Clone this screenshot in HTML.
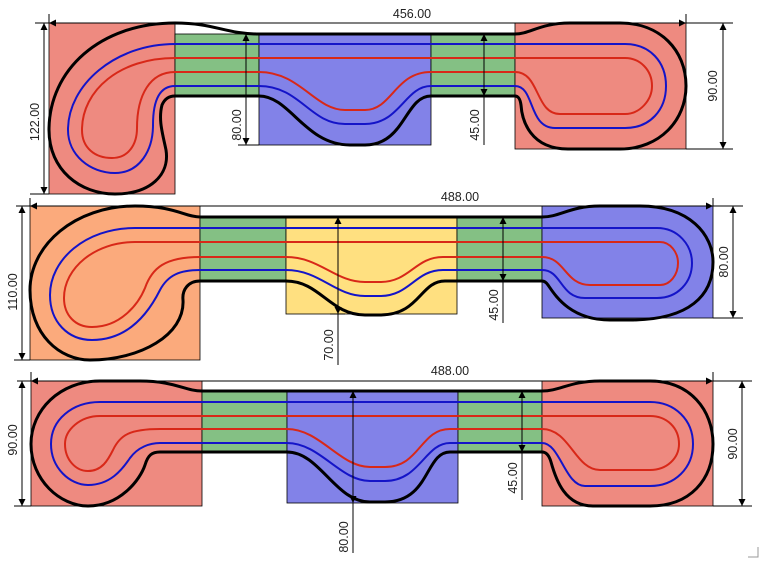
<!DOCTYPE html>
<html><head><meta charset="utf-8"><style>
html,body{margin:0;padding:0;background:#fff;}
svg{display:block;}
text{font-family:"Liberation Sans",sans-serif;font-size:12.5px;fill:#222;}
</style></head><body>
<svg width="763" height="561" viewBox="0 0 763 561" xmlns="http://www.w3.org/2000/svg">
<defs>
<marker id="a" viewBox="0 0 10 10" refX="10" refY="5" markerWidth="9" markerHeight="7" orient="auto-start-reverse" markerUnits="userSpaceOnUse"><path d="M0,0 L10,5 L0,10 z" fill="#000"/></marker>
</defs>
<g stroke="#000" stroke-width="0.8">
<rect x="49" y="23" width="126" height="171" fill="#EE8A80"/>
<rect x="175" y="34" width="84" height="62" fill="#84C084"/>
<rect x="259" y="34" width="172" height="111" fill="#8282E8"/>
<rect x="431" y="34" width="84" height="62" fill="#84C084"/>
<rect x="515" y="23" width="171" height="126" fill="#EE8A80"/>
<rect x="30" y="206" width="170" height="154" fill="#FBAA7C"/>
<rect x="200" y="217" width="86" height="64" fill="#84C084"/>
<rect x="286" y="217" width="171" height="97" fill="#FFE080"/>
<rect x="457" y="217" width="85" height="64" fill="#84C084"/>
<rect x="542" y="206" width="171" height="112" fill="#8282E8"/>
<rect x="31" y="381" width="171" height="125" fill="#EE8A80"/>
<rect x="202" y="391" width="85" height="61" fill="#84C084"/>
<rect x="287" y="391" width="171" height="112" fill="#8282E8"/>
<rect x="458" y="391" width="84" height="61" fill="#84C084"/>
<rect x="542" y="381" width="171" height="125" fill="#EE8A80"/>
</g>
<g fill="none" stroke-width="2" stroke-linecap="round">
<path stroke="#1414C8" d="M175,44 L625,44 C650,44 666,62 666,86 C666,110 650,128 625,128 L555,128 C528,128 535,86 515,86"/>
<path stroke="#D82818" d="M175,58 L625,58 C640,58 652,70 652,86 C652,100 640,114 625,114 L560,114 C535,114 540,72 515,72"/>
<path stroke="#1414C8" d="M175,44 C115,44 68,85 68,130 C68,155 90,173 115,173 C140,173 153,150 153,125 C153,100 160,86 175,86 L259,86 C300,86 310,124 345,124 L365,124 C400,124 405,86 431,86 L515,86"/>
<path stroke="#D82818" d="M175,58 C120,58 82,90 82,130 C82,148 95,158 112,158 C128,158 137,145 137,128 C137,95 150,72 175,72 L259,72 C300,72 315,110 345,110 L365,110 C392,110 395,72 431,72 L515,72"/>
<path stroke="#1414C8" d="M135,228 L657,228 C678,228 692,245 692,263 C692,282 678,298 657,298 L585,298 C560,298 562,270 542,270 L457,270 L443,270 C415,270 410,296 380,296 L365,296 C335,296 320,270 286,270 L200,270 C180,270 168,275 160,290 C150,310 130,340 92,340 C68,340 50,322 50,295 C50,260 85,228 135,228"/>
<path stroke="#D82818" d="M135,242 L660,242 C670,242 678,252 678,263 C678,275 670,285 660,285 L590,285 C565,285 565,257 542,257 L443,257 C415,257 410,282 380,282 L365,282 C335,282 320,257 286,257 L200,257 C165,257 152,268 145,288 C138,305 120,327 92,327 C75,327 64,315 64,298 C64,268 95,242 135,242"/>
<path stroke="#1414C8" d="M100,402 L650,402 C675,402 693,420 693,444 C693,468 675,486 650,486 L585,486 C565,486 560,443 542,443 L450,443 C425,443 420,481 385,481 L370,481 C340,481 320,443 287,443 L160,443 C150,443 138,447 130,458 C122,470 110,485 88,485 C70,485 51,468 51,444 C51,420 72,402 100,402"/>
<path stroke="#D82818" d="M100,416 L650,416 C667,416 679,428 679,444 C679,458 667,470 650,470 L600,470 C575,470 570,429 542,429 L450,429 C420,429 420,467 385,467 L370,467 C340,467 320,429 287,429 L160,429 C130,429 120,435 113,450 C108,460 102,471 88,471 C76,471 65,460 65,444 C65,430 80,416 100,416"/>
</g>
<g fill="none" stroke="#000" stroke-width="3" stroke-linejoin="round">
<path d="M259,34 C225,34 215,23 175,23 C100,23 49,70 49,130 C49,170 80,194 115,194 C150,194 170,175 166,150 C163,135 158,120 162,105 C165,98 170,96 175,96 L259,96 C290,96 305,145 350,145 L365,145 C405,145 405,96 431,96 L515,96 C518,96 520,98 521,105 C522,120 530,149 568,149 L620,149 C660,149 686,120 686,86 C686,50 660,23 620,23 L570,23 C540,23 530,34 515,34 Z"/>
<path d="M200,217 C185,217 175,206 135,206 C75,206 30,245 30,290 C30,335 60,360 90,360 C140,360 185,335 183,300 C182,290 188,281 200,281 L286,281 C320,281 330,315 365,315 L380,315 C420,315 420,281 445,281 L542,281 C544,281 546,282 548,285 C555,295 570,320 610,320 L630,320 C690,320 713,295 713,262 C713,235 690,206 640,206 L600,206 C570,206 560,217 542,217 Z"/>
<path d="M202,391 C185,391 175,381 140,381 L100,381 C60,381 31,410 31,444 C31,480 60,506 88,506 C120,506 140,480 145,465 C148,455 152,452 160,452 L287,452 C320,452 335,502 370,502 L385,502 C430,502 425,452 450,452 L542,452 C546,452 549,455 551,462 C556,480 565,506 593,506 L650,506 C690,506 713,480 713,444 C713,410 690,381 650,381 L600,381 C570,381 560,391 542,391 Z"/>
</g>
<g stroke="#000" stroke-width="1" fill="none">
<line x1="35" y1="23" x2="49" y2="23"/>
<line x1="49" y1="23" x2="686" y2="23" marker-start="url(#a)" marker-end="url(#a)"/>
<line x1="49" y1="14" x2="49" y2="23"/><line x1="686" y1="14" x2="686" y2="23"/>
<line x1="44" y1="23" x2="44" y2="194" marker-start="url(#a)" marker-end="url(#a)"/>
<line x1="30" y1="194" x2="49" y2="194"/>
<line x1="246" y1="34" x2="246" y2="145" marker-start="url(#a)" marker-end="url(#a)"/>
<line x1="238" y1="145" x2="259" y2="145"/>
<line x1="484" y1="34" x2="484" y2="96" marker-start="url(#a)" marker-end="url(#a)"/>
<line x1="484" y1="96" x2="484" y2="145"/>
<line x1="686" y1="23" x2="733" y2="23"/><line x1="686" y1="149" x2="733" y2="149"/>
<line x1="723" y1="23" x2="723" y2="149" marker-start="url(#a)" marker-end="url(#a)"/>

<line x1="16" y1="206" x2="30" y2="206"/>
<line x1="30" y1="206" x2="713" y2="206" marker-start="url(#a)" marker-end="url(#a)"/>
<line x1="30" y1="198" x2="30" y2="206"/><line x1="713" y1="198" x2="713" y2="206"/>
<line x1="22" y1="206" x2="22" y2="360" marker-start="url(#a)" marker-end="url(#a)"/>
<line x1="14" y1="360" x2="30" y2="360"/>
<line x1="338" y1="217" x2="338" y2="314" marker-start="url(#a)" marker-end="url(#a)"/>
<line x1="338" y1="314" x2="338" y2="365"/><line x1="330" y1="314" x2="345" y2="314"/>
<line x1="503" y1="217" x2="503" y2="281" marker-start="url(#a)" marker-end="url(#a)"/>
<line x1="503" y1="281" x2="503" y2="323"/>
<line x1="713" y1="206" x2="743" y2="206"/><line x1="713" y1="318" x2="743" y2="318"/>
<line x1="733" y1="206" x2="733" y2="318" marker-start="url(#a)" marker-end="url(#a)"/>

<line x1="17" y1="381" x2="31" y2="381"/>
<line x1="31" y1="381" x2="713" y2="381" marker-start="url(#a)" marker-end="url(#a)"/>
<line x1="31" y1="372" x2="31" y2="381"/><line x1="713" y1="372" x2="713" y2="381"/>
<line x1="22" y1="381" x2="22" y2="506" marker-start="url(#a)" marker-end="url(#a)"/>
<line x1="14" y1="506" x2="31" y2="506"/>
<line x1="353" y1="391" x2="353" y2="503" marker-start="url(#a)" marker-end="url(#a)"/>
<line x1="353" y1="503" x2="353" y2="553"/>
<line x1="522" y1="391" x2="522" y2="452" marker-start="url(#a)" marker-end="url(#a)"/>
<line x1="522" y1="452" x2="522" y2="500"/>
<line x1="713" y1="381" x2="752" y2="381"/><line x1="713" y1="506" x2="752" y2="506"/>
<line x1="742" y1="381" x2="742" y2="506" marker-start="url(#a)" marker-end="url(#a)"/>
</g>
<g>
<text x="412" y="18" text-anchor="middle">456.00</text>
<text transform="translate(39,122) rotate(-90)" text-anchor="middle">122.00</text>
<text transform="translate(241,125) rotate(-90)" text-anchor="middle">80.00</text>
<text transform="translate(479,125) rotate(-90)" text-anchor="middle">45.00</text>
<text transform="translate(717,86) rotate(-90)" text-anchor="middle">90.00</text>
<text x="460" y="201" text-anchor="middle">488.00</text>
<text transform="translate(17,292) rotate(-90)" text-anchor="middle">110.00</text>
<text transform="translate(333,345) rotate(-90)" text-anchor="middle">70.00</text>
<text transform="translate(498,305) rotate(-90)" text-anchor="middle">45.00</text>
<text transform="translate(728,262) rotate(-90)" text-anchor="middle">80.00</text>
<text x="450" y="375" text-anchor="middle">488.00</text>
<text transform="translate(17,440) rotate(-90)" text-anchor="middle">90.00</text>
<text transform="translate(348,537) rotate(-90)" text-anchor="middle">80.00</text>
<text transform="translate(517,478) rotate(-90)" text-anchor="middle">45.00</text>
<text transform="translate(737,444) rotate(-90)" text-anchor="middle">90.00</text>
</g>
<path d="M748,557 L758,557 L758,547" fill="none" stroke="#999" stroke-width="1"/>
</svg>
</body></html>
